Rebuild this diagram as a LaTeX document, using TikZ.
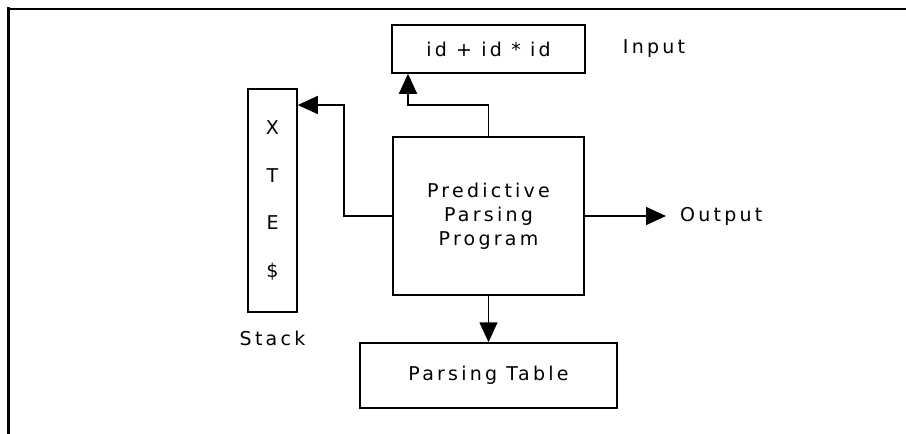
\documentclass[tikz,border=0pt]{standalone}
\usepackage{fontspec}
\setmainfont{DejaVu Sans}[LetterSpace=17]
\usetikzlibrary{arrows.meta,positioning}
\begin{document}
\begin{tikzpicture}[x=1pt,y=-1pt,
      box/.style={draw,line width=1.5pt,inner sep=0pt,align=center,
        font={\fontsize{19}{24}\selectfont}},
      lbl/.style={inner sep=0pt,font={\fontsize{19}{24}\selectfont}},
      arr/.style={line width=1.5pt,-{Triangle[length=20pt,width=18pt]}}]

  \useasboundingbox (0,0) rectangle (906,434);
  \draw[line width=3pt] (8.5,434) -- (8.5,7);
  \draw[line width=2pt] (7,8.8) -- (906,8.8);

  \node[box,minimum width=193pt,minimum height=48pt] (input) at (488.5,49) {id + id * id};
  \node[box,minimum width=191pt,minimum height=158pt] (program) at (488.5,216)
    {Predictive\\Parsing\\Program};
  \node[box,minimum width=257pt,minimum height=65pt] (table) at (488.5,375.5) {Parsing Table};
  \node[box,minimum width=49pt,minimum height=223pt,
    font={\fontsize{19}{47.6}\selectfont}] (stack) at (272.5,200.5) {X\\T\\E\\\$};

  \node[lbl,right=37pt of input] (inputlbl) {Input};
  \node[lbl,below=18pt of stack] (stacklbl) {Stack};
  \coordinate (outtip) at (666,216);
  \node[lbl,right=14pt of outtip] (outputlbl) {Output};

  \coordinate (inbend) at (408,105);
  \coordinate (stbend) at (344,105);
  \draw[arr] (program.north) |- (inbend) -- (inbend |- input.south);
  \draw[arr] (program.west) -| (stbend) -- (stbend -| stack.east);
  \draw[arr] (program.east) -- (outtip);
  \draw[arr] (program.south) -- (table.north);

\end{tikzpicture}
\end{document}
